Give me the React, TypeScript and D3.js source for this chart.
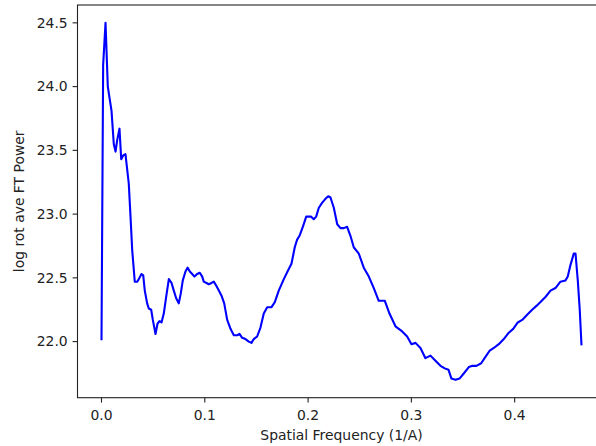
import React from "react";
import * as d3 from "d3";

const freq = [
  0.0, 0.0016, 0.0039, 0.0061, 0.0097, 0.0119, 0.0136, 0.0152, 0.0174, 0.0191,
  0.021, 0.0232, 0.0264, 0.0281, 0.0297, 0.0322, 0.0346, 0.0361, 0.0387, 0.0404,
  0.0419, 0.0442, 0.0458, 0.0481, 0.0497, 0.0523, 0.0542, 0.0561, 0.0581, 0.0603,
  0.0626, 0.0652, 0.0678, 0.07, 0.0723, 0.0748, 0.0768, 0.0787, 0.0813, 0.0833,
  0.0855, 0.0878, 0.09, 0.0926, 0.0952, 0.0975, 0.099, 0.1016, 0.1039, 0.1065,
  0.1087, 0.111, 0.1136, 0.1162, 0.1188, 0.1217, 0.1249, 0.1281, 0.1314, 0.1336,
  0.1362, 0.1394, 0.1426, 0.1452, 0.1474, 0.1507, 0.1539, 0.1571, 0.1604, 0.1646,
  0.1678, 0.1716, 0.1765, 0.1813, 0.1839, 0.1871, 0.1894, 0.1917, 0.1949, 0.1982,
  0.2007, 0.203, 0.2055, 0.2078, 0.2104, 0.2137, 0.2168, 0.2195, 0.2217, 0.2249,
  0.2282, 0.2314, 0.2346, 0.2378, 0.241, 0.2442, 0.2491, 0.2539, 0.2588, 0.2636,
  0.2684, 0.2743, 0.2788, 0.2846, 0.2911, 0.2959, 0.3001, 0.304, 0.3088, 0.3136,
  0.3185, 0.3233, 0.3282, 0.3323, 0.3359, 0.3388, 0.3427, 0.3466, 0.3507, 0.3556,
  0.3592, 0.363, 0.3676, 0.3717, 0.3759, 0.3798, 0.3846, 0.3895, 0.3943, 0.3986,
  0.403, 0.4073, 0.4121, 0.4169, 0.4211, 0.425, 0.4298, 0.4347, 0.4395, 0.4443,
  0.4492, 0.4514, 0.454, 0.4572, 0.4589, 0.4611, 0.463, 0.4647,
];

const power = [
  22.01, 24.17, 24.5, 24.0, 23.81, 23.55, 23.49, 23.58, 23.67, 23.43,
  23.46, 23.47, 23.24, 22.98, 22.72, 22.47, 22.47, 22.49, 22.53, 22.52,
  22.4, 22.3, 22.26, 22.25, 22.17, 22.06, 22.14, 22.16, 22.15, 22.22,
  22.35, 22.49, 22.46, 22.4, 22.34, 22.3, 22.38, 22.48, 22.55, 22.58,
  22.55, 22.53, 22.51, 22.53, 22.54, 22.51, 22.47, 22.46, 22.45, 22.46,
  22.47, 22.44, 22.4, 22.36, 22.3, 22.17, 22.1, 22.05, 22.05, 22.06,
  22.03, 22.02, 22.0, 21.99, 22.02, 22.04, 22.11, 22.22, 22.27, 22.27,
  22.31, 22.4, 22.49, 22.57, 22.61, 22.74, 22.8, 22.83, 22.9, 22.98,
  22.98, 22.98, 22.96, 22.98, 23.05, 23.09, 23.12, 23.14, 23.13, 23.05,
  22.92, 22.89, 22.89, 22.9, 22.83, 22.74, 22.69, 22.58, 22.51, 22.42,
  22.32, 22.32, 22.22, 22.12, 22.08, 22.04, 21.98, 21.99, 21.95, 21.87,
  21.89, 21.85, 21.81, 21.79, 21.78, 21.71, 21.7, 21.71, 21.75, 21.8,
  21.81, 21.81, 21.83, 21.88, 21.93, 21.95, 21.98, 22.02, 22.07, 22.1,
  22.15, 22.17, 22.21, 22.25, 22.28, 22.31, 22.35, 22.4, 22.42, 22.47,
  22.48, 22.51, 22.6, 22.69, 22.69, 22.48, 22.25, 21.97,
];

const xTicks = [0.0, 0.1, 0.2, 0.3, 0.4];
const yTicks = [22.0, 22.5, 23.0, 23.5, 24.0, 24.5];
const xLabel = "Spatial Frequency (1/A)";
const yLabel = "log rot ave FT Power";

const W = 596;
const H = 446;
const left = 77.5;
const right = 605.5;
const top = 5;
const bottom = 397.7;
const FONT = "'DejaVu Sans', sans-serif";

export default function App() {
  const xMin = d3.min(freq)!;
  const xMax = d3.max(freq)!;
  const yMin = d3.min(power)!;
  const yMax = d3.max(power)!;
  const xm = (xMax - xMin) * 0.05;
  const ym = (yMax - yMin) * 0.05;
  const x = d3.scaleLinear().domain([xMin - xm, xMax + xm]).range([left, right]);
  const y = d3.scaleLinear().domain([yMin - ym, yMax + ym]).range([bottom, top]);
  const pts: [number, number][] = freq.map((f, i) => [f, power[i]]);
  const line = d3
    .line<[number, number]>()
    .x((d) => x(d[0]))
    .y((d) => y(d[1]));

  return (
    <svg
      width={W}
      height={H}
      style={{ position: "absolute", left: 0, top: 0, background: "#fff" }}
    >
      <rect x={0} y={0} width={W} height={H} fill="#fff" />
      <path d={line(pts)!} fill="none" stroke="#0000ff" strokeWidth={2.1} strokeLinejoin="round" />
      <rect
        x={left}
        y={top}
        width={right - left}
        height={bottom - top}
        fill="none"
        stroke="#222"
        strokeWidth={1.1}
      />
      {xTicks.map((t) => (
        <g key={"x" + t}>
          <line x1={x(t)} x2={x(t)} y1={bottom} y2={bottom + 4.9} stroke="#222" strokeWidth={1.1} />
          <text
            x={x(t)}
            y={bottom + 22.5}
            textAnchor="middle"
            fontFamily={FONT}
            fontSize={13.9}
            fill="#222"
          >
            {t.toFixed(1)}
          </text>
        </g>
      ))}
      {yTicks.map((t) => (
        <g key={"y" + t}>
          <line x1={left - 4.9} x2={left} y1={y(t)} y2={y(t)} stroke="#222" strokeWidth={1.1} />
          <text
            x={left - 9.8}
            y={y(t)}
            dy="0.35em"
            textAnchor="end"
            fontFamily={FONT}
            fontSize={13.9}
            fill="#222"
          >
            {t.toFixed(1)}
          </text>
        </g>
      ))}
      <text
        x={(left + right) / 2}
        y={440}
        textAnchor="middle"
        fontFamily={FONT}
        fontSize={13.9}
        fill="#222"
      >
        {xLabel}
      </text>
      <text
        transform={`translate(24, ${(top + bottom) / 2}) rotate(-90)`}
        textAnchor="middle"
        fontFamily={FONT}
        fontSize={13.9}
        fill="#222"
      >
        {yLabel}
      </text>
    </svg>
  );
}
